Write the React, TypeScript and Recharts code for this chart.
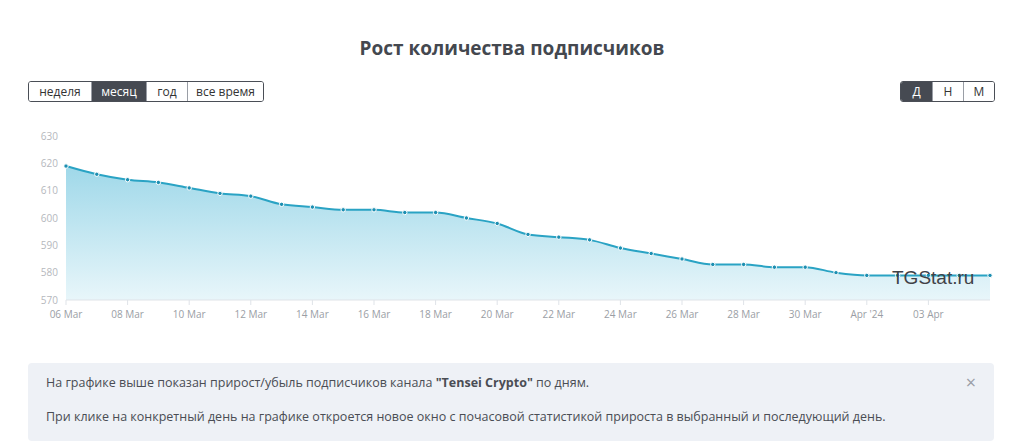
import { AreaChart, Area, XAxis, YAxis } from 'recharts';

const dates = [
	'06 Mar', '07 Mar', '08 Mar', '09 Mar', '10 Mar', '11 Mar', '12 Mar', '13 Mar',
	'14 Mar', '15 Mar', '16 Mar', '17 Mar', '18 Mar', '19 Mar', '20 Mar', '21 Mar',
	'22 Mar', '23 Mar', '24 Mar', '25 Mar', '26 Mar', '27 Mar', '28 Mar', '29 Mar',
	'30 Mar', '31 Mar', "Apr '24", '02 Apr', '03 Apr', '04 Apr', '05 Apr',
];

const subscribers = [
	619, 616, 614, 613, 611, 609, 608, 605, 604, 603, 603, 602, 602, 600, 598, 594,
	593, 592, 589, 587, 585, 583, 583, 582, 582, 580, 579, 579, 579, 579, 579,
];

const xTicks = [
	'06 Mar', '08 Mar', '10 Mar', '12 Mar', '14 Mar', '16 Mar', '18 Mar', '20 Mar',
	'22 Mar', '24 Mar', '26 Mar', '28 Mar', '30 Mar', "Apr '24", '03 Apr',
];
const yTicks = [570, 580, 590, 600, 610, 620, 630];

const periodButtons = ['неделя', 'месяц', 'год', 'все время'];
const scaleButtons = ['Д', 'Н', 'М'];

const data = dates.map((date, i) => ({ date, value: subscribers[i] }));

const font = '"Open Sans", "Noto Sans", sans-serif';

const ButtonGroup = ({ labels, active, widths }: { labels: string[]; active: number; widths: number[] }) => (
	<div style={{ display: 'flex', border: '1px solid #4a4e56', borderRadius: 3, overflow: 'hidden', height: 19 }}>
		{labels.map((l, i) => (
			<div
				key={l}
				style={{
					width: widths[i],
					boxSizing: 'border-box',
					borderLeft: i ? '1px solid #9a9ea6' : 'none',
					background: i === active ? '#464a52' : '#fff',
					color: i === active ? '#fff' : '#333',
					fontSize: 12,
					lineHeight: '19px',
					textAlign: 'center',
				}}
			>
				{l}
			</div>
		))}
	</div>
);

const App = () => {
	return (
		<div style={{ position: 'absolute', left: 0, top: 0, width: 1024, height: 447, background: '#fff', fontFamily: font, overflow: 'hidden' }}>
			<div style={{ position: 'absolute', top: 35, width: 1024, textAlign: 'center', fontSize: 19, fontWeight: 700, color: '#44484f' }}>
				Рост количества подписчиков
			</div>
			<div style={{ position: 'absolute', left: 28, top: 81 }}>
				<ButtonGroup labels={periodButtons} active={1} widths={[62, 55, 41, 76]} />
			</div>
			<div style={{ position: 'absolute', left: 900, top: 81 }}>
				<ButtonGroup labels={scaleButtons} active={0} widths={[31, 31, 31]} />
			</div>

			<div style={{ position: 'absolute', left: 0, top: 120 }}>
				<AreaChart width={1024} height={210} data={data} margin={{ top: 16, right: 34, left: 0, bottom: 0 }}>
					<defs>
						<linearGradient id='subsFill' x1='0' y1='0' x2='0' y2='1'>
							<stop offset='0%' stopColor='#9fd8e9' />
							<stop offset='100%' stopColor='#e8f6fa' />
						</linearGradient>
					</defs>
					<XAxis
						dataKey='date'
						ticks={xTicks}
						interval={0}
						height={30}
						stroke='#dfe3e8'
						tick={{ fontSize: 10, fill: '#9a9ea5', fontFamily: font }}
						tickSize={5}
						tickMargin={6}
					/>
					<YAxis
						domain={[570, 630]}
						ticks={yTicks}
						width={66}
						axisLine={false}
						tickLine={false}
						tick={{ fontSize: 10, fill: '#b5b8bd', fontFamily: font }}
					/>
					<Area
						type='monotone'
						dataKey='value'
						stroke='#2aa3c4'
						strokeWidth={2}
						fill='url(#subsFill)'
						fillOpacity={1}
						dot={{ r: 2.2, fill: '#1d8fb2', stroke: '#fff', strokeWidth: 1 }}
						isAnimationActive={false}
					/>
				</AreaChart>
			</div>

			{/* watermark sits over the plot */}
			<div
				style={{
					position: 'absolute',
					left: 892,
					top: 267,
					fontSize: 19,
					color: '#3f4247',
					fontFamily: '"Liberation Sans", Arial, sans-serif',
					pointerEvents: 'none',
				}}
			>
				TGStat.ru
			</div>

			<div
				style={{
					position: 'absolute',
					left: 28,
					top: 363,
					width: 966,
					height: 78,
					background: '#eef1f6',
					borderRadius: 4,
					color: '#4a4d54',
					fontSize: 12.5,
				}}
			>
				<div style={{ position: 'absolute', left: 18, top: 11 }}>
					На графике выше показан прирост/убыль подписчиков канала <b>"Tensei Crypto"</b> по дням.
				</div>
				<div style={{ position: 'absolute', left: 18, top: 45 }}>
					При клике на конкретный день на графике откроется новое окно с почасовой статистикой прироста в выбранный и последующий день.
				</div>
				<div style={{ position: 'absolute', right: 18, top: 7, fontSize: 18, color: '#9a9ea6' }}>×</div>
			</div>
		</div>
	);
};

export default App;
